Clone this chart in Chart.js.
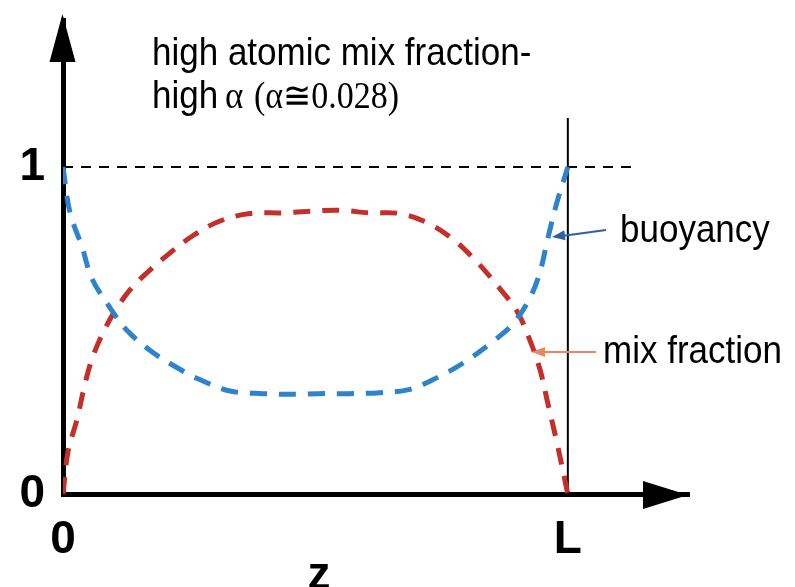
<!DOCTYPE html>
<html>
<head>
<meta charset="utf-8">
<script src="https://cdn.jsdelivr.net/npm/chart.js@4.4.1/dist/chart.umd.min.js"></script>
<style>
  html, body { margin: 0; padding: 0; background: #fff; }
  #wrap { width: 795px; height: 587px; }
</style>
</head>
<body>
<div id="wrap"><canvas id="mixChart"></canvas></div>
<script>
// position along the tube, 0 .. L (L = 1)
var zBuoyancy = [0, 0.014, 0.038, 0.057, 0.093, 0.127, 0.172, 0.222, 0.271, 0.331, 0.396, 0.463,
  0.503, 0.568, 0.628, 0.687, 0.741, 0.792, 0.846, 0.891, 0.925, 0.945, 0.960, 0.978, 1.0];
var buoyancy = [1.0, 0.86, 0.755, 0.66, 0.57, 0.50, 0.44, 0.39, 0.35, 0.315, 0.307, 0.305,
  0.307, 0.307, 0.31, 0.32, 0.356, 0.40, 0.46, 0.52, 0.60, 0.68, 0.78, 0.89, 1.0];

var zMix = [0, 0.010, 0.028, 0.044, 0.059, 0.083, 0.107, 0.133, 0.158, 0.206, 0.257, 0.311,
  0.370, 0.436, 0.489, 0.548, 0.608, 0.667, 0.721, 0.772, 0.820, 0.859, 0.899, 0.925, 0.945,
  0.960, 0.978, 1.0];
var mixFraction = [0, 0.13, 0.23, 0.34, 0.42, 0.505, 0.57, 0.625, 0.665, 0.73, 0.79, 0.835,
  0.858, 0.86, 0.865, 0.868, 0.86, 0.858, 0.83, 0.78, 0.71, 0.64, 0.56, 0.47, 0.38,
  0.28, 0.16, 0];

// reference lines: level 1 and the end of the tube at z = L
var levelOneX = [0, 1.133];
var levelOneY = [1, 1];
var endX = [1, 1];
var endY = [0, 1.15];

var tickLabels = { 0: '0', 1: 'L' };

function toPoints(xs, ys) {
  return xs.map(function (x, i) {
    return { x: x, y: ys[i] };
  });
}

var sansFont = '"Liberation Sans", Arial, sans-serif';
var serifFont = '"Liberation Serif", "Times New Roman", serif';

function arrowHead(ctx, tipX, tipY, fromX, fromY, len, half) {
  var a = Math.atan2(tipY - fromY, tipX - fromX);
  ctx.beginPath();
  ctx.moveTo(tipX, tipY);
  ctx.lineTo(tipX - len * Math.cos(a) + half * Math.sin(a), tipY - len * Math.sin(a) - half * Math.cos(a));
  ctx.lineTo(tipX - len * Math.cos(a) - half * Math.sin(a), tipY - len * Math.sin(a) + half * Math.cos(a));
  ctx.closePath();
  ctx.fill();
}

function stretchedText(ctx, text, x, y, font) {
  ctx.save();
  ctx.translate(x, y);
  ctx.scale(1, 1.1);
  ctx.font = font;
  ctx.fillText(text, 0, 0);
  ctx.restore();
}

var sketchPlugin = {
  id: 'sketch',
  afterDraw: function (chart) {
    var ctx = chart.ctx;
    var x = chart.scales.x;
    var y = chart.scales.y;
    var ox = x.getPixelForValue(0);
    var oy = y.getPixelForValue(0);
    ctx.save();
    ctx.fillStyle = '#000';

    // axis arrows
    ctx.beginPath();
    ctx.moveTo(ox - 0.5, 14);
    ctx.lineTo(ox - 13.5, 62);
    ctx.lineTo(ox + 12.5, 62);
    ctx.closePath();
    ctx.fill();
    ctx.beginPath();
    ctx.moveTo(688, oy + 1);
    ctx.lineTo(643, oy - 13);
    ctx.lineTo(643, oy + 15);
    ctx.closePath();
    ctx.fill();

    // heading
    ctx.textBaseline = 'alphabetic';
    ctx.textAlign = 'left';
    stretchedText(ctx, 'high atomic mix fraction-', 152, 65, '35px ' + sansFont);
    stretchedText(ctx, 'high', 152, 108, '35px ' + sansFont);
    stretchedText(ctx, '\u03b1', 225, 108, '35px ' + serifFont);
    stretchedText(ctx, '(\u03b1\u22450.028)', 254, 108, '34px ' + serifFont);

    // curve labels
    stretchedText(ctx, 'buoyancy', 620, 242, '35px ' + sansFont);
    stretchedText(ctx, 'mix fraction', 603, 363, '35px ' + sansFont);

    // axis name
    ctx.font = 'bold 46px ' + sansFont;
    ctx.textAlign = 'center';
    ctx.fillText('z', 319, 589);

    // pointer arrows
    ctx.lineWidth = 2;
    ctx.strokeStyle = '#2d5fa6';
    ctx.fillStyle = '#2d5fa6';
    ctx.beginPath();
    ctx.moveTo(606, 230);
    ctx.lineTo(562, 236);
    ctx.stroke();
    arrowHead(ctx, 552, 237, 606, 230, 13, 5);

    ctx.strokeStyle = '#ea8660';
    ctx.fillStyle = '#ea8660';
    ctx.beginPath();
    ctx.moveTo(596, 352);
    ctx.lineTo(543, 352);
    ctx.stroke();
    arrowHead(ctx, 532, 352, 596, 352, 13, 5);

    ctx.restore();
  }
};

var context = document.getElementById('mixChart');

new Chart(context, {
  type: 'line',
  data: {
    datasets: [
      {
        label: 'buoyancy',
        data: toPoints(zBuoyancy, buoyancy),
        borderColor: '#2e83cc',
        borderWidth: 5,
        borderDash: [17, 12],
        pointRadius: 0,
        tension: 0.35,
      },
      {
        label: 'mix fraction',
        data: toPoints(zMix, mixFraction),
        borderColor: '#c42f2a',
        borderWidth: 5,
        borderDash: [17, 12],
        pointRadius: 0,
        tension: 0.35,
      },
      {
        label: 'level 1',
        data: toPoints(levelOneX, levelOneY),
        borderColor: '#000',
        borderWidth: 2,
        borderDash: [10, 8],
        pointRadius: 0,
      },
      {
        label: 'z = L',
        data: toPoints(endX, endY),
        borderColor: '#000',
        borderWidth: 2,
        pointRadius: 0,
      },
    ],
  },
  options: {
    responsive: true,
    maintainAspectRatio: false,
    animation: false,
    layout: {
      padding: { left: 0, right: 106, top: 20, bottom: 0 },
    },
    plugins: {
      legend: { display: false },
      tooltip: { enabled: false },
    },
    scales: {
      x: {
        type: 'linear',
        min: 0,
        max: 1.24,
        grid: { display: false, drawTicks: false },
        border: { display: true, color: '#000', width: 5 },
        afterBuildTicks: function (scale) {
          scale.ticks = [{ value: 0 }, { value: 1 }];
        },
        afterFit: function (scale) {
          scale.height = 93;
          scale.paddingLeft = 0;
          scale.paddingRight = 0;
        },
        ticks: {
          autoSkip: false,
          maxRotation: 0,
          padding: 19,
          color: '#000',
          font: { family: sansFont, size: 46, weight: 'bold' },
          callback: function (value) {
            return tickLabels[value];
          },
        },
      },
      y: {
        min: 0,
        max: 1.45,
        grid: { display: false, drawTicks: false },
        border: { display: true, color: '#000', width: 5 },
        afterBuildTicks: function (scale) {
          scale.ticks = [{ value: 0 }, { value: 1 }];
        },
        afterFit: function (scale) {
          scale.width = 63;
          scale.paddingTop = 0;
          scale.paddingBottom = 0;
        },
        ticks: {
          padding: 18,
          color: '#000',
          font: { family: sansFont, size: 46, weight: 'bold' },
        },
      },
    },
  },
  plugins: [sketchPlugin],
});
</script>
</body>
</html>
